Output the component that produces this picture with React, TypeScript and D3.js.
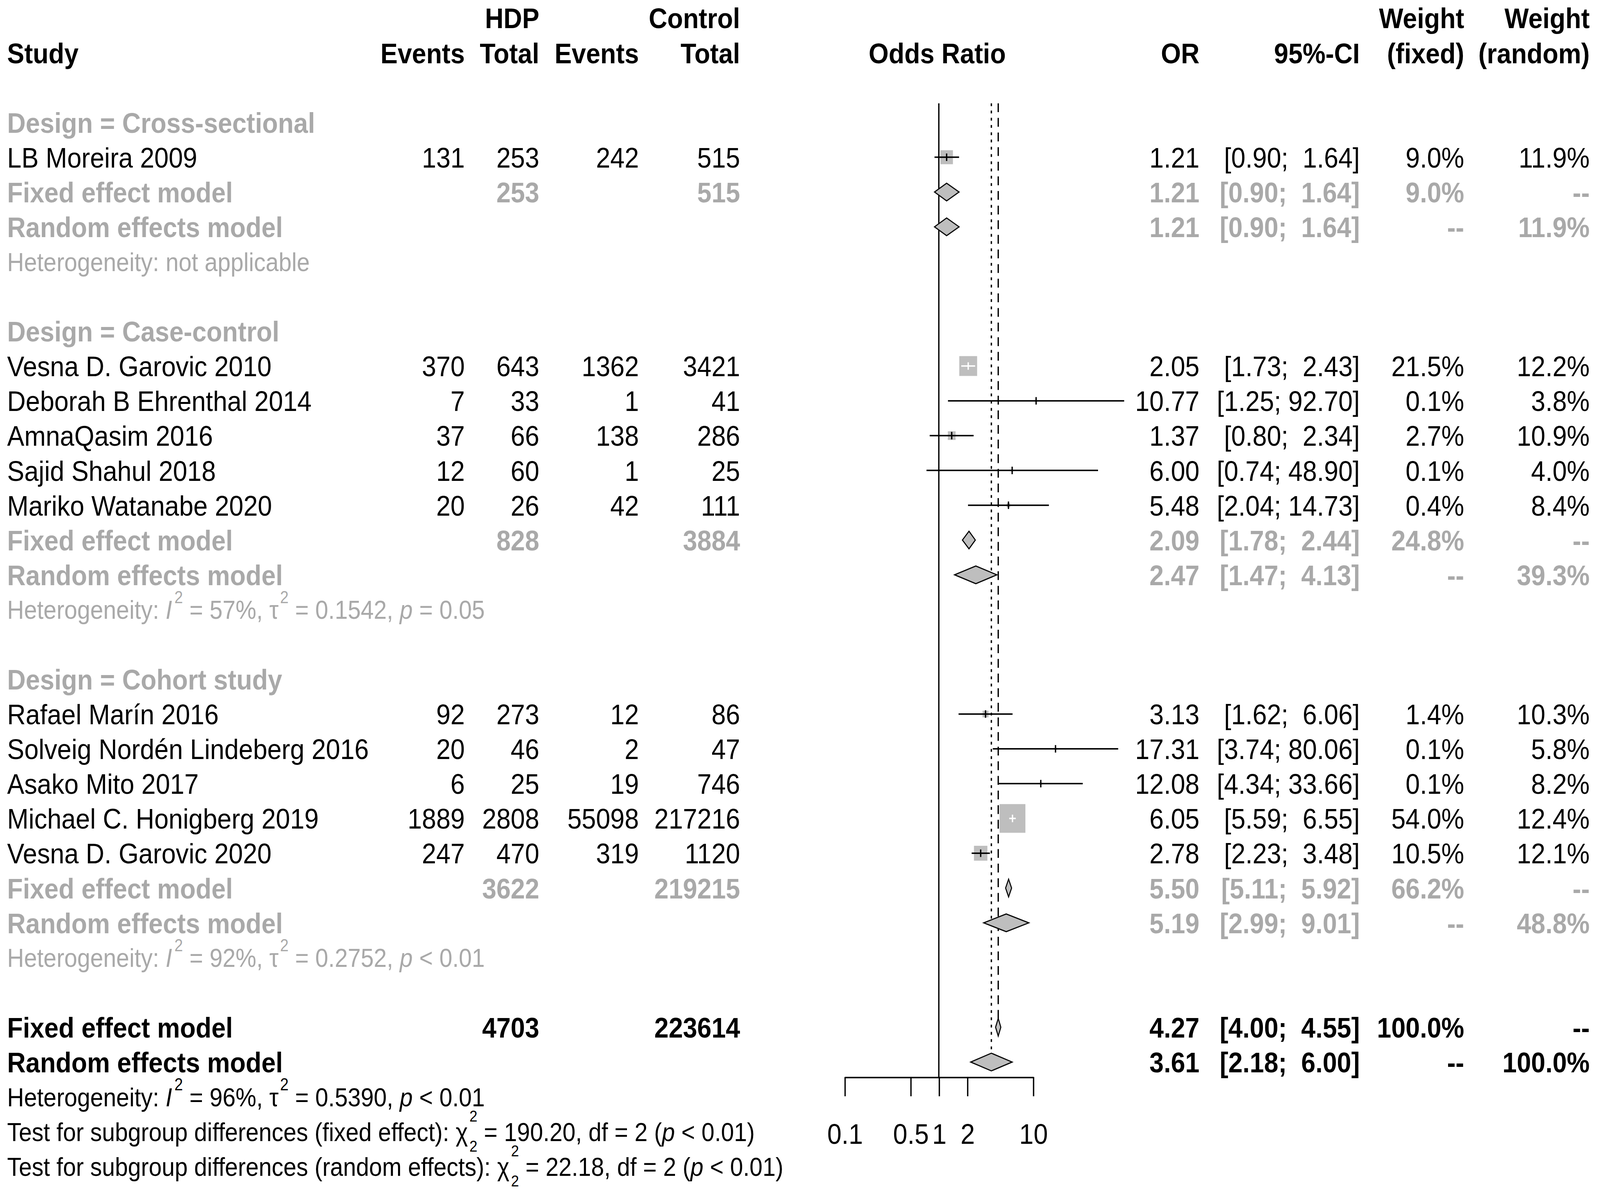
import React, { useEffect, useRef } from "react"
import * as d3 from "d3"

const W = 1568
const H = 1054.2
const FONT = "'Liberation Sans', Arial, Helvetica, sans-serif"
const GRAY = "#a9a9a9"
const BOX = "#bebebe"
const FS = 25.2
const HS = 22.9

// ---- data ----
const groupLabels = ["Design = Cross-sectional", "Design = Case-control", "Design = Cohort study"]

const studyNames = [
  "LB Moreira 2009",
  "Vesna D. Garovic 2010",
  "Deborah B Ehrenthal 2014",
  "AmnaQasim 2016",
  "Sajid Shahul 2018",
  "Mariko Watanabe 2020",
  "Rafael Marín 2016",
  "Solveig Nordén Lindeberg 2016",
  "Asako Mito 2017",
  "Michael C. Honigberg 2019",
  "Vesna D. Garovic 2020",
]
const studyGroup = [0, 1, 1, 1, 1, 1, 2, 2, 2, 2, 2]
const eventsHDP = [131, 370, 7, 37, 12, 20, 92, 20, 6, 1889, 247]
const totalHDP = [253, 643, 33, 66, 60, 26, 273, 46, 25, 2808, 470]
const eventsCtrl = [242, 1362, 1, 138, 1, 42, 12, 2, 19, 55098, 319]
const totalCtrl = [515, 3421, 41, 286, 25, 111, 86, 47, 746, 217216, 1120]
const studyOR = [1.21, 2.05, 10.77, 1.37, 6.0, 5.48, 3.13, 17.31, 12.08, 6.05, 2.78]
const studyLower = [0.9, 1.73, 1.25, 0.8, 0.74, 2.04, 1.62, 3.74, 4.34, 5.59, 2.23]
const studyUpper = [1.64, 2.43, 92.7, 2.34, 48.9, 14.73, 6.06, 80.06, 33.66, 6.55, 3.48]
const weightFixed = [9.0, 21.5, 0.1, 2.7, 0.1, 0.4, 1.4, 0.1, 0.1, 54.0, 10.5]
const weightRandom = [11.9, 12.2, 3.8, 10.9, 4.0, 8.4, 10.3, 5.8, 8.2, 12.4, 12.1]

const groupTotalHDP = [253, 828, 3622]
const groupTotalCtrl = [515, 3884, 219215]
const groupFixedOR = [1.21, 2.09, 5.5]
const groupFixedLower = [0.9, 1.78, 5.11]
const groupFixedUpper = [1.64, 2.44, 5.92]
const groupFixedWeight = [9.0, 24.8, 66.2]
const groupRandomOR = [1.21, 2.47, 5.19]
const groupRandomLower = [0.9, 1.47, 2.99]
const groupRandomUpper = [1.64, 4.13, 9.01]
const groupRandomWeight = [11.9, 39.3, 48.8]
const groupI2 = ["", "57%", "92%"]
const groupTau2 = ["", "0.1542", "0.2752"]
const groupP = ["", "= 0.05", "< 0.01"]

const overallTotals = [4703, 223614]
const overallFixed = [4.27, 4.0, 4.55]
const overallRandom = [3.61, 2.18, 6.0]
const overallHet = ["96%", "0.5390", "< 0.01"]
const testLabels = ["fixed effect", "random effects"]
const testChi2 = ["190.20", "22.18"]
const testDf = [2, 2]
const testP = ["< 0.01", "< 0.01"]

const axisTicks = [0.1, 0.5, 1, 2, 10]

// ---- layout ----
const x = d3.scaleLog().domain([0.1, 10]).range([827.7, 1012.4])
const yRow = d3.scaleLinear().domain([0, 30]).range([108, 1029])
const boxSide = d3.scalePow().exponent(0.4).domain([0, 54]).range([0, 25.3])

const col = {
  study: 7,
  evE: 455.5,
  totE: 528.5,
  evC: 626.1,
  totC: 725.3,
  plot: 918.5,
  or: 1175.5,
  ci: 1332.6,
  wf: 1434.9,
  wr: 1557.9,
}

const f2 = d3.format(".2f")
const f1 = d3.format(".1f")
const ciText = (l: number, u: number) => `[${f2(l)}; ${f2(u).padStart(5, " ")}]`
const wText = (w: number | null) => (w === null ? "--" : f1(w) + "%")

const DIAMOND_H = 7.8
const SUP = 15
const SUP_Y = -14

// row indexes
const groupRow: number[] = []
const studyRow: number[] = []
const fixedRow: number[] = []
const randomRow: number[] = []
const hetRow: number[] = []
{
  let r = 0
  groupLabels.forEach((_, gi) => {
    groupRow[gi] = r++
    studyGroup.forEach((g, si) => {
      if (g === gi) studyRow[si] = r++
    })
    fixedRow[gi] = r++
    randomRow[gi] = r++
    hetRow[gi] = r++
    r++
  })
}
const ovFixedRow = 26
const ovRandomRow = 27
const ovHetRow = 28
const testRow = [29, 30]

type Seg = { t: string; it?: boolean; shift?: number; size?: number; dx?: number }

const Rich = ({ xx, row, color, segs }: { xx: number; row: number; color: string; segs: Seg[] }) => {
  let prev = 0
  return (
    <text x={xx} y={yRow(row) + 0.36 * HS} fontSize={HS} fill={color} style={{ whiteSpace: "pre" }}>
      {segs.map((s, i) => {
        const sh = s.shift || 0
        const dy = sh - prev
        prev = sh
        return (
          <tspan key={i} dy={dy} dx={s.dx || 0} fontSize={s.size || HS} fontStyle={s.it ? "italic" : "normal"}>
            {s.t}
          </tspan>
        )
      })}
    </text>
  )
}

const hetSegs = (i2: string, tau2: string, p: string): Seg[] => [
  { t: "Heterogeneity: " },
  { t: "I", it: true },
  { t: "2", shift: SUP_Y, size: SUP, dx: 2.3 },
  { t: ` = ${i2}, ` },
  { t: "τ" },
  { t: "2", shift: SUP_Y, size: SUP, dx: 1.5 },
  { t: ` = ${tau2}, ` },
  { t: "p", it: true },
  { t: ` ${p}` },
]

const testSegs = (i: number): Seg[] => [
  { t: `Test for subgroup differences (${testLabels[i]}): ` },
  { t: "χ" },
  { t: "2", shift: 9.5, size: 14, dx: 1.5 },
  { t: "2", shift: -17, size: 14, dx: -0.556 * 14 },
  { t: ` = ${testChi2[i]}, df = ${testDf[i]} (` },
  { t: "p", it: true },
  { t: ` ${testP[i]})` },
]

const T = ({
  xx,
  row,
  anchor = "start",
  bold = false,
  color = "#000",
  children,
}: {
  xx: number
  row: number
  anchor?: string
  bold?: boolean
  color?: string
  children: React.ReactNode
}) => (
  <text
    x={xx}
    y={yRow(row) + 0.36 * FS}
    textAnchor={anchor}
    fontWeight={bold ? "bold" : "normal"}
    fill={color}
    fontSize={FS}
    style={{ whiteSpace: "pre" }}
  >
    {children}
  </text>
)

const Diamond = ({ est, lo, hi, row }: { est: number; lo: number; hi: number; row: number }) => {
  const cy = yRow(row)
  const pts = [
    [x(lo), cy],
    [x(est), cy - DIAMOND_H],
    [x(hi), cy],
    [x(est), cy + DIAMOND_H],
  ]
  return <polygon points={pts.map((p) => p.join(",")).join(" ")} fill={BOX} stroke="#000" strokeWidth={1} />
}

const App = () => {
  const axisRef = useRef<SVGGElement>(null)

  useEffect(() => {
    if (!axisRef.current) return
    const g = d3.select(axisRef.current)
    g.selectAll("*").remove()
    g.call(
      d3
        .axisBottom(x)
        .tickValues(axisTicks)
        .tickFormat((d) => String(d))
        .tickSize(17)
        .tickSizeOuter(0)
        .tickPadding(24)
    )
    g.attr("font-family", FONT).attr("font-size", FS)
    g.selectAll("path, line").attr("stroke", "#000").attr("stroke-width", 1.3)
    g.selectAll("text").attr("fill", "#000")
  }, [])

  const top = yRow(-0.55)
  const axisY = yRow(27.43)

  return (
    <svg
      viewBox={`0 0 ${W} ${H}`}
      preserveAspectRatio="none"
      style={{ position: "fixed", left: 0, top: 0, width: "100vw", height: "100vh", background: "#fff" }}
      fontFamily={FONT}
    >
      <rect x={0} y={0} width={W} height={H} fill="#fff" />

      {/* header */}
      <T xx={col.totE} row={-3} anchor="end" bold>HDP</T>
      <T xx={col.totC} row={-3} anchor="end" bold>Control</T>
      <T xx={col.wf} row={-3} anchor="end" bold>Weight</T>
      <T xx={col.wr} row={-3} anchor="end" bold>Weight</T>
      <T xx={col.study} row={-2} bold>Study</T>
      <T xx={col.evE} row={-2} anchor="end" bold>Events</T>
      <T xx={col.totE} row={-2} anchor="end" bold>Total</T>
      <T xx={col.evC} row={-2} anchor="end" bold>Events</T>
      <T xx={col.totC} row={-2} anchor="end" bold>Total</T>
      <T xx={col.plot} row={-2} anchor="middle" bold>Odds Ratio</T>
      <T xx={col.or} row={-2} anchor="end" bold>OR</T>
      <T xx={col.ci} row={-2} anchor="end" bold>95%-CI</T>
      <T xx={col.wf} row={-2} anchor="end" bold>(fixed)</T>
      <T xx={col.wr} row={-2} anchor="end" bold>(random)</T>

      {/* reference lines */}
      <line x1={x(1)} x2={x(1)} y1={top} y2={axisY} stroke="#000" strokeWidth={1.3} />
      <line
        x1={x(overallRandom[0])}
        x2={x(overallRandom[0])}
        y1={top}
        y2={yRow(ovRandomRow)}
        stroke="#000"
        strokeWidth={1.3}
        strokeDasharray="2.5 3.9"
      />
      <line
        x1={x(overallFixed[0])}
        x2={x(overallFixed[0])}
        y1={top}
        y2={yRow(ovFixedRow)}
        stroke="#000"
        strokeWidth={1.3}
        strokeDasharray="7.8 5.1"
      />

      {/* subgroups */}
      {groupLabels.map((lab, gi) => (
        <g key={lab}>
          <T xx={col.study} row={groupRow[gi]} bold color={GRAY}>{lab}</T>
          <T xx={col.study} row={fixedRow[gi]} bold color={GRAY}>Fixed effect model</T>
          <T xx={col.study} row={randomRow[gi]} bold color={GRAY}>Random effects model</T>
          <T xx={col.totE} row={fixedRow[gi]} anchor="end" bold color={GRAY}>{groupTotalHDP[gi]}</T>
          <T xx={col.totC} row={fixedRow[gi]} anchor="end" bold color={GRAY}>{groupTotalCtrl[gi]}</T>
          <T xx={col.or} row={fixedRow[gi]} anchor="end" bold color={GRAY}>{f2(groupFixedOR[gi])}</T>
          <T xx={col.ci} row={fixedRow[gi]} anchor="end" bold color={GRAY}>
            {ciText(groupFixedLower[gi], groupFixedUpper[gi])}
          </T>
          <T xx={col.wf} row={fixedRow[gi]} anchor="end" bold color={GRAY}>{wText(groupFixedWeight[gi])}</T>
          <T xx={col.wr} row={fixedRow[gi]} anchor="end" bold color={GRAY}>{wText(null)}</T>
          <T xx={col.or} row={randomRow[gi]} anchor="end" bold color={GRAY}>{f2(groupRandomOR[gi])}</T>
          <T xx={col.ci} row={randomRow[gi]} anchor="end" bold color={GRAY}>
            {ciText(groupRandomLower[gi], groupRandomUpper[gi])}
          </T>
          <T xx={col.wf} row={randomRow[gi]} anchor="end" bold color={GRAY}>{wText(null)}</T>
          <T xx={col.wr} row={randomRow[gi]} anchor="end" bold color={GRAY}>{wText(groupRandomWeight[gi])}</T>
          {groupI2[gi] === "" ? (
            <Rich xx={col.study} row={hetRow[gi]} color={GRAY} segs={[{ t: "Heterogeneity: not applicable" }]} />
          ) : (
            <Rich xx={col.study} row={hetRow[gi]} color={GRAY} segs={hetSegs(groupI2[gi], groupTau2[gi], groupP[gi])} />
          )}
        </g>
      ))}

      {/* studies */}
      {studyNames.map((name, si) => {
        const r = studyRow[si]
        const cy = yRow(r)
        const s = boxSide(weightFixed[si])
        const cx = x(studyOR[si])
        const inside = x(studyLower[si]) >= cx - s / 2 && x(studyUpper[si]) <= cx + s / 2
        const lc = inside ? "#fff" : "#000"
        return (
          <g key={name}>
            <T xx={col.study} row={r}>{name}</T>
            <T xx={col.evE} row={r} anchor="end">{eventsHDP[si]}</T>
            <T xx={col.totE} row={r} anchor="end">{totalHDP[si]}</T>
            <T xx={col.evC} row={r} anchor="end">{eventsCtrl[si]}</T>
            <T xx={col.totC} row={r} anchor="end">{totalCtrl[si]}</T>
            <T xx={col.or} row={r} anchor="end">{f2(studyOR[si])}</T>
            <T xx={col.ci} row={r} anchor="end">{ciText(studyLower[si], studyUpper[si])}</T>
            <T xx={col.wf} row={r} anchor="end">{wText(weightFixed[si])}</T>
            <T xx={col.wr} row={r} anchor="end">{wText(weightRandom[si])}</T>
            <rect x={cx - s / 2} y={cy - s / 2} width={s} height={s} fill={BOX} />
            <line x1={x(studyLower[si])} x2={x(studyUpper[si])} y1={cy} y2={cy} stroke={lc} strokeWidth={1.3} />
            <line x1={cx} x2={cx} y1={cy - 3.3} y2={cy + 3.3} stroke={lc} strokeWidth={1.3} />
          </g>
        )
      })}

      {/* subgroup diamonds */}
      {groupLabels.map((lab, gi) => (
        <g key={"d" + lab}>
          <Diamond est={groupFixedOR[gi]} lo={groupFixedLower[gi]} hi={groupFixedUpper[gi]} row={fixedRow[gi]} />
          <Diamond est={groupRandomOR[gi]} lo={groupRandomLower[gi]} hi={groupRandomUpper[gi]} row={randomRow[gi]} />
        </g>
      ))}

      {/* overall */}
      <T xx={col.study} row={ovFixedRow} bold>Fixed effect model</T>
      <T xx={col.study} row={ovRandomRow} bold>Random effects model</T>
      <T xx={col.totE} row={ovFixedRow} anchor="end" bold>{overallTotals[0]}</T>
      <T xx={col.totC} row={ovFixedRow} anchor="end" bold>{overallTotals[1]}</T>
      <T xx={col.or} row={ovFixedRow} anchor="end" bold>{f2(overallFixed[0])}</T>
      <T xx={col.ci} row={ovFixedRow} anchor="end" bold>{ciText(overallFixed[1], overallFixed[2])}</T>
      <T xx={col.wf} row={ovFixedRow} anchor="end" bold>{wText(100)}</T>
      <T xx={col.wr} row={ovFixedRow} anchor="end" bold>{wText(null)}</T>
      <T xx={col.or} row={ovRandomRow} anchor="end" bold>{f2(overallRandom[0])}</T>
      <T xx={col.ci} row={ovRandomRow} anchor="end" bold>{ciText(overallRandom[1], overallRandom[2])}</T>
      <T xx={col.wf} row={ovRandomRow} anchor="end" bold>{wText(null)}</T>
      <T xx={col.wr} row={ovRandomRow} anchor="end" bold>{wText(100)}</T>
      <Diamond est={overallFixed[0]} lo={overallFixed[1]} hi={overallFixed[2]} row={ovFixedRow} />
      <Diamond est={overallRandom[0]} lo={overallRandom[1]} hi={overallRandom[2]} row={ovRandomRow} />

      <Rich xx={col.study} row={ovHetRow} color="#000" segs={hetSegs(overallHet[0], overallHet[1], overallHet[2])} />
      {testRow.map((r, i) => (
        <Rich key={r} xx={col.study} row={r} color="#000" segs={testSegs(i)} />
      ))}

      {/* axis */}
      <g ref={axisRef} transform={`translate(0,${axisY})`} />
    </svg>
  )
}

export default App
